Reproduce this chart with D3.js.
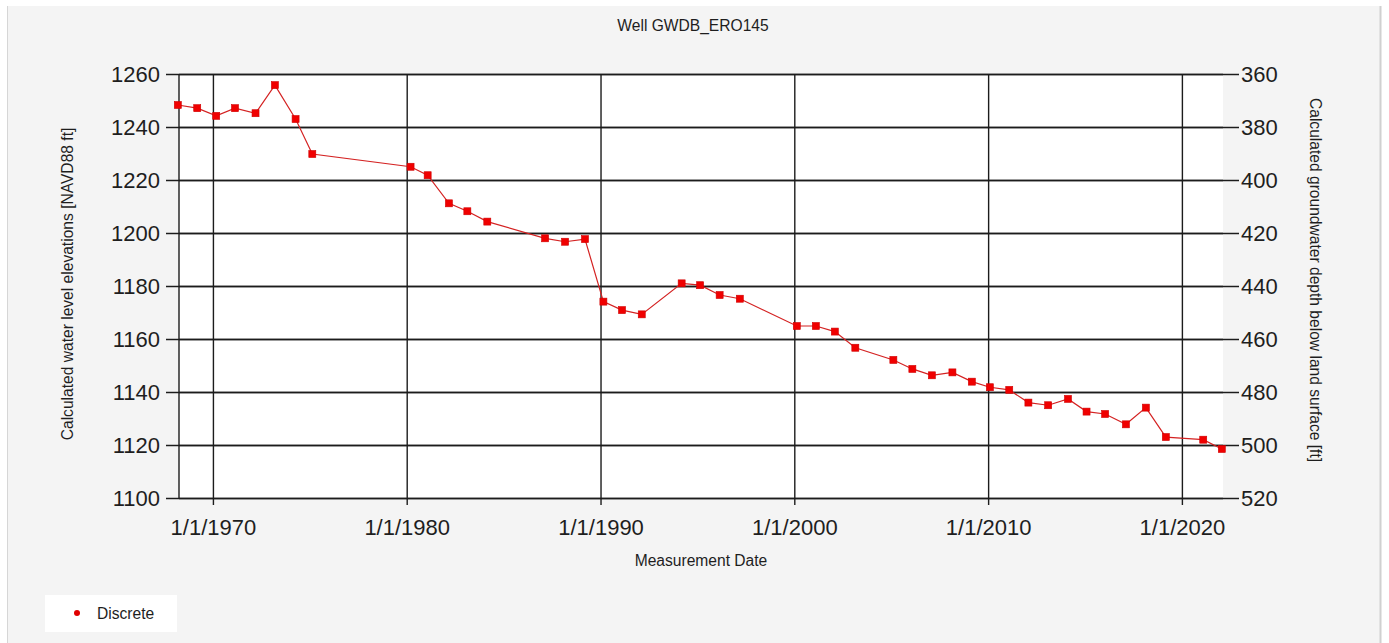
<!DOCTYPE html>
<html>
<head>
<meta charset="utf-8">
<script src="https://cdn.jsdelivr.net/npm/d3@7"></script>
<style>
  html, body { margin: 0; padding: 0; background: #ffffff; }
  svg { display: block; }
  text { font-family: "Liberation Sans", Arial, sans-serif; fill: #1e1e1e; }
</style>
</head>
<body>
<svg id="chart" width="1389" height="643"></svg>
<script>
// Measurement dates and calculated water level elevations (ft, NAVD88)
const measurementDates = [
  "1968-03-10","1969-03-11","1970-03-04","1971-02-21","1972-03-14","1973-03-14",
  "1974-04-08","1975-02-17","1980-03-14","1981-01-30","1982-03-07","1983-02-17",
  "1984-02-28","1987-02-21","1988-03-04","1989-03-14","1990-02-24","1991-02-10",
  "1992-02-17","1994-03-10","1995-02-21","1996-02-24","1997-03-10","2000-02-17",
  "2001-02-10","2002-02-03","2003-02-24","2005-02-10","2006-02-03","2007-02-06",
  "2008-02-28","2009-02-28","2010-02-03","2011-02-03","2012-01-30","2013-02-06",
  "2014-02-14","2015-01-30","2016-01-15","2017-02-10","2018-02-21","2019-03-04",
  "2021-02-06","2022-01-22"
];
const waterLevels = [
  1248.3, 1247.1, 1244.2, 1247.1, 1245.2, 1255.8,
  1243.0, 1229.8, 1225.0, 1221.8, 1211.2, 1208.2,
  1204.3, 1198.0, 1196.7, 1197.7, 1174.1, 1170.9,
  1169.3, 1181.0, 1180.3, 1176.6, 1175.2, 1164.9,
  1164.9, 1162.8, 1156.7, 1152.1, 1148.7, 1146.3,
  1147.4, 1143.9, 1141.8, 1140.8, 1136.0, 1135.0,
  1137.4, 1132.6, 1131.7, 1127.8, 1134.1, 1123.0,
  1122.0, 1118.5
];
// Land surface elevation used for the depth axis (depth = surface - elevation)
const landSurface = [1620];

const elevationTicks = [1100, 1120, 1140, 1160, 1180, 1200, 1220, 1240, 1260];
const depthTicks = [360, 380, 400, 420, 440, 460, 480, 500, 520];
const dateTicks = ["1970-01-01","1980-01-01","1990-01-01","2000-01-01","2010-01-01","2020-01-01"];

const chartTitle = "Well GWDB_ERO145";
const xTitle = "Measurement Date";
const yLeftTitle = "Calculated water level elevations [NAVD88 ft]";
const yRightTitle = "Calculated groundwater depth below land surface [ft]";
const seriesName = "Discrete";

const parse = d3.timeParse("%Y-%m-%d");
const data = measurementDates.map((d, i) => ({ date: parse(d), value: waterLevels[i] }));

const svg = d3.select("#chart");

// Panel background
svg.append("rect").attr("x", 7).attr("y", 6).attr("width", 1373).attr("height", 637)
  .attr("fill", "#f4f4f4");
svg.append("line").attr("x1", 7.5).attr("x2", 7.5).attr("y1", 6).attr("y2", 643)
  .attr("stroke", "#d6d6d6").attr("stroke-width", 1);
svg.append("line").attr("x1", 1380.5).attr("x2", 1380.5).attr("y1", 6).attr("y2", 643)
  .attr("stroke", "#d0d0d0").attr("stroke-width", 2);

const plot = { left: 179, right: 1223, top: 74, bottom: 498 };
const plotW = plot.right - plot.left;
const plotH = plot.bottom - plot.top;

svg.append("rect").attr("x", plot.left).attr("y", plot.top)
  .attr("width", plotW).attr("height", plotH).attr("fill", "#ffffff");

const x = d3.scaleTime().domain(d3.extent(data, d => d.date)).range([plot.left - 1.2, plot.right - 1.2]);
const y = d3.scaleLinear().domain([1100, 1260]).range([plot.bottom, plot.top]);
const yDepth = d3.scaleLinear()
  .domain([landSurface[0] - 1260, landSurface[0] - 1100])
  .range([plot.top, plot.bottom]);

const gridColor = "#1c1c1c";
const fmtDate = d3.timeFormat("%-m/%-d/%Y");

// Left axis: gridlines across the plot plus outer ticks
const leftAxis = svg.append("g")
  .attr("transform", `translate(${plot.right},0)`)
  .call(d3.axisLeft(y).tickValues(elevationTicks).tickSize(plotW + 13).tickPadding(6).tickFormat(d3.format("d")));

// Right axis (depth below land surface)
const rightAxis = svg.append("g")
  .attr("transform", `translate(${plot.left},0)`)
  .call(d3.axisRight(yDepth).tickValues(depthTicks).tickSize(plotW + 16).tickPadding(2).tickFormat(d3.format("d")));

// Bottom axis: vertical gridlines plus outer ticks
const bottomAxis = svg.append("g")
  .attr("transform", `translate(0,${plot.top})`)
  .call(d3.axisBottom(x).tickValues(dateTicks.map(parse)).tickSize(plotH + 7).tickPadding(14).tickFormat(fmtDate));

[leftAxis, rightAxis, bottomAxis].forEach(g => {
  g.select(".domain").remove();
  g.selectAll(".tick line").attr("stroke", gridColor).attr("stroke-width", 1.4);
  g.selectAll(".tick text").attr("font-size", 22).attr("fill", "#222")
    .attr("font-family", "'Liberation Sans', Arial, sans-serif");
});

// Left axis line
svg.append("line").attr("x1", plot.left).attr("x2", plot.left)
  .attr("y1", plot.top).attr("y2", plot.bottom)
  .attr("stroke", gridColor).attr("stroke-width", 1.4);

// Series line and square markers
const line = d3.line().x(d => x(d.date)).y(d => y(d.value));
svg.append("path").datum(data)
  .attr("d", line).attr("fill", "none")
  .attr("stroke", "#d42222").attr("stroke-width", 1.2);

const ms = 7;
svg.append("g").selectAll("rect").data(data).join("rect")
  .attr("x", d => x(d.date) - ms / 2)
  .attr("y", d => y(d.value) - ms / 2)
  .attr("width", ms).attr("height", ms)
  .attr("fill", "#f00000").attr("stroke", "#d00000").attr("stroke-width", 0.6);

// Titles
svg.append("text").attr("x", 693).attr("y", 31).attr("text-anchor", "middle")
  .attr("font-size", 15.6).text(chartTitle);
svg.append("text").attr("x", 701).attr("y", 566).attr("text-anchor", "middle")
  .attr("font-size", 15.6).text(xTitle);
svg.append("text").attr("transform", "translate(73,284) rotate(-90)")
  .attr("text-anchor", "middle").attr("font-size", 15.6).text(yLeftTitle);
svg.append("text").attr("transform", "translate(1310,280) rotate(90)")
  .attr("text-anchor", "middle").attr("font-size", 15.6).text(yRightTitle);

// Legend
const legend = svg.append("g");
legend.append("rect").attr("x", 45).attr("y", 595).attr("width", 132).attr("height", 37)
  .attr("fill", "#ffffff");
legend.append("circle").attr("cx", 77).attr("cy", 613).attr("r", 3).attr("fill", "#e00000");
legend.append("text").attr("x", 97).attr("y", 619).attr("font-size", 15.6).text(seriesName);
</script>
</body>
</html>
